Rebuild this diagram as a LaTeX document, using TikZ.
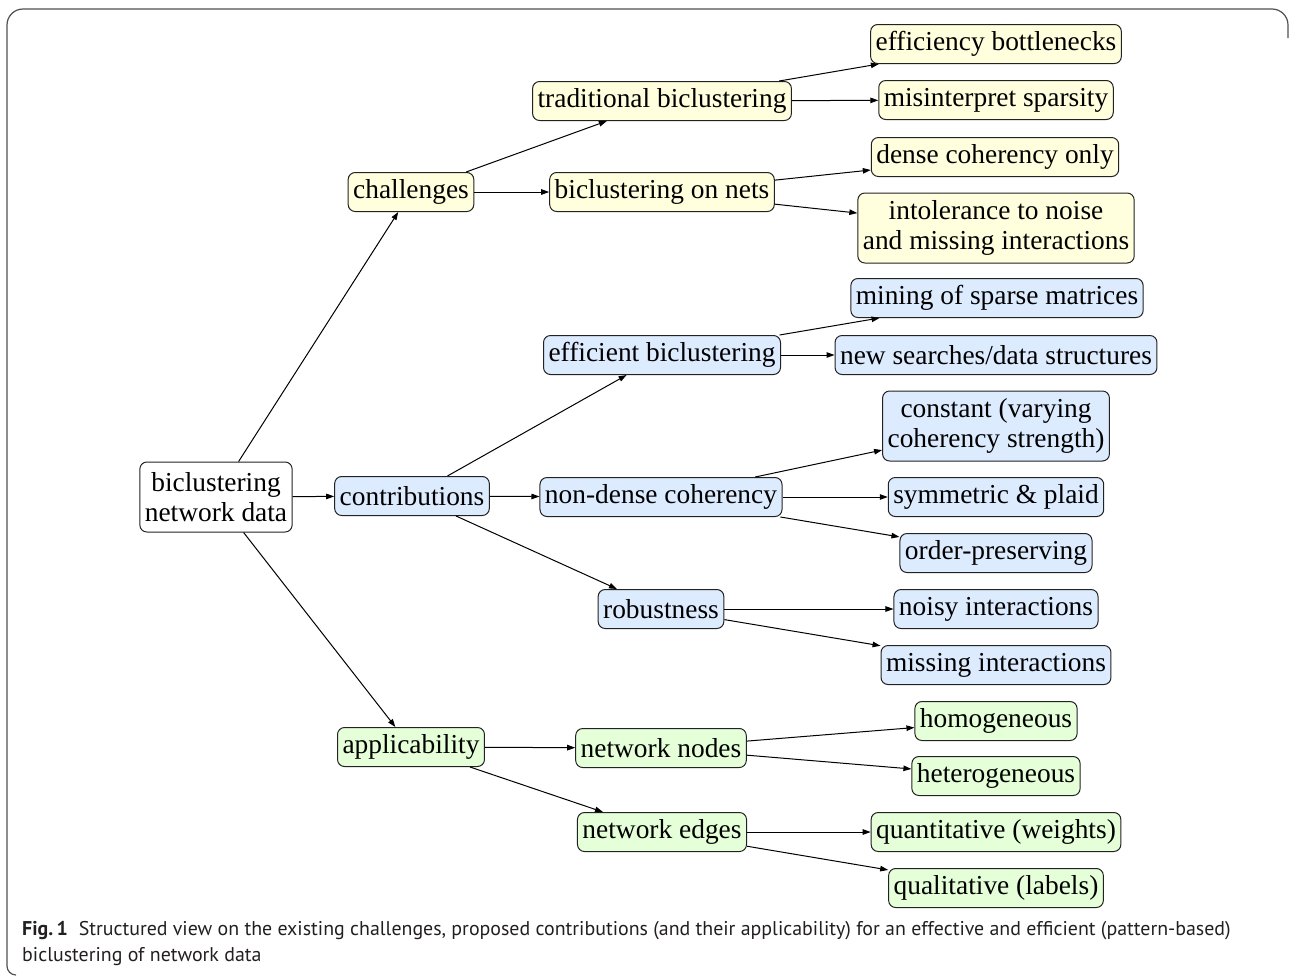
\documentclass[tikz,border=0pt]{standalone}
\usepackage{fontspec}
\setmainfont{Liberation Serif}
\newfontfamily\capfont{PT Sans}
\usetikzlibrary{arrows.meta}
\definecolor{yel}{RGB}{255,255,221}
\definecolor{blu}{RGB}{221,235,255}
\definecolor{grn}{RGB}{229,255,216}
\definecolor{boxline}{RGB}{34,34,34}
\definecolor{framecol}{RGB}{80,80,80}
\definecolor{captext}{RGB}{35,31,32}
\begin{document}
\begin{tikzpicture}[x=1pt,y=-1pt,
  box/.style={draw=boxline, line width=1pt, rounded corners=7pt,
    inner xsep=5pt, inner ysep=0pt, minimum height=39pt, align=center,
    font=\fontsize{27.4}{30.5}\selectfont},
  tall/.style={minimum height=70pt},
  chal/.style={box, fill=yel},
  contr/.style={box, fill=blu},
  appl/.style={box, fill=grn},
  root/.style={box, fill=white},
  conn/.style={-{Triangle[length=8pt,width=5.5pt]}, line width=1pt, draw=black},
  captxt/.style={anchor=base west, inner sep=0pt, text=captext,
    font=\capfont\fontsize{19.9}{24}\selectfont}]
\useasboundingbox (0,0) rectangle (1290,975);

% open frame around the figure
\draw[framecol, line width=1.2pt]
  (1288,38) -- (1288,25) arc[start angle=0, end angle=-90, radius=16]
  -- (23,9) arc[start angle=-90, end angle=-180, radius=16]
  -- (7,966) arc[start angle=180, end angle=90, radius=9];

% root
\node[root, tall] (r) at (216,497) {biclustering\\network data};

% first level
\node[chal]  (ch) at (411,192) {challenges};
\node[contr] (co) at (412,496) {contributions};
\node[appl]  (ap) at (411,747) {applicability};

% challenges branch
\node[chal] (tb) at (662,101) {traditional biclustering};
\node[chal] (bn) at (662,192) {biclustering on nets};
\node[chal] (eb) at (996,44)  {efficiency bottlenecks};
\node[chal] (ms) at (996,100) {misinterpret sparsity};
\node[chal] (dc) at (995,157) {dense coherency only};
\node[chal, tall] (in) at (996,228) {intolerance to noise\\and missing interactions};

% contributions branch
\node[contr] (ef) at (662,355) {efficient biclustering};
\node[contr] (nd) at (661,497) {non-dense coherency};
\node[contr] (rb) at (661,609) {robustness};
\node[contr] (mi) at (997,298) {mining of sparse matrices};
\node[contr] (ns) at (996,355) {new searches/data structures};
\node[contr, tall] (cv) at (996,426) {constant (varying\\coherency strength)};
\node[contr] (sp) at (996,497) {symmetric \& plaid};
\node[contr] (op) at (996,553) {order-preserving};
\node[contr] (no) at (996,609) {noisy interactions};
\node[contr] (mx) at (996,665) {missing interactions};

% applicability branch
\node[appl] (nn) at (661,748) {network nodes};
\node[appl] (ne) at (662,832) {network edges};
\node[appl] (ho) at (996,721) {homogeneous};
\node[appl] (he) at (996,776) {heterogeneous};
\node[appl] (qn) at (996,832) {quantitative (weights)};
\node[appl] (ql) at (996,888) {qualitative (labels)};

% connectors
\draw[conn] (r) -- (ch);
\draw[conn] (r) -- (co);
\draw[conn] (r) -- (ap);
\draw[conn] (ch) -- (tb);
\draw[conn] (ch) -- (bn);
\draw[conn] (tb) -- (eb);
\draw[conn] (tb) -- (ms);
\draw[conn] (bn) -- (dc);
\draw[conn] (bn) -- (in);
\draw[conn] (co) -- (ef);
\draw[conn] (co) -- (nd);
\draw[conn] (co) -- (rb);
\draw[conn] (ef) -- (mi);
\draw[conn] (ef) -- (ns);
\draw[conn] (nd) -- (cv);
\draw[conn] (nd) -- (sp);
\draw[conn] (nd) -- (op);
\draw[conn] (rb) -- (no);
\draw[conn] (rb) -- (mx);
\draw[conn] (ap) -- (nn);
\draw[conn] (ap) -- (ne);
\draw[conn] (nn) -- (ho);
\draw[conn] (nn) -- (he);
\draw[conn] (ne) -- (qn);
\draw[conn] (ne) -- (ql);

% caption
\node[captxt] (cap1) at (22,935) {\textbf{Fig.\,1}\hspace{0.55em}Structured view on the existing challenges, proposed contributions (and their applicability) for an effective and efficient (pattern-based)};
\node[captxt] (cap2) at (22,961) {biclustering of network data};
\end{tikzpicture}
\end{document}
